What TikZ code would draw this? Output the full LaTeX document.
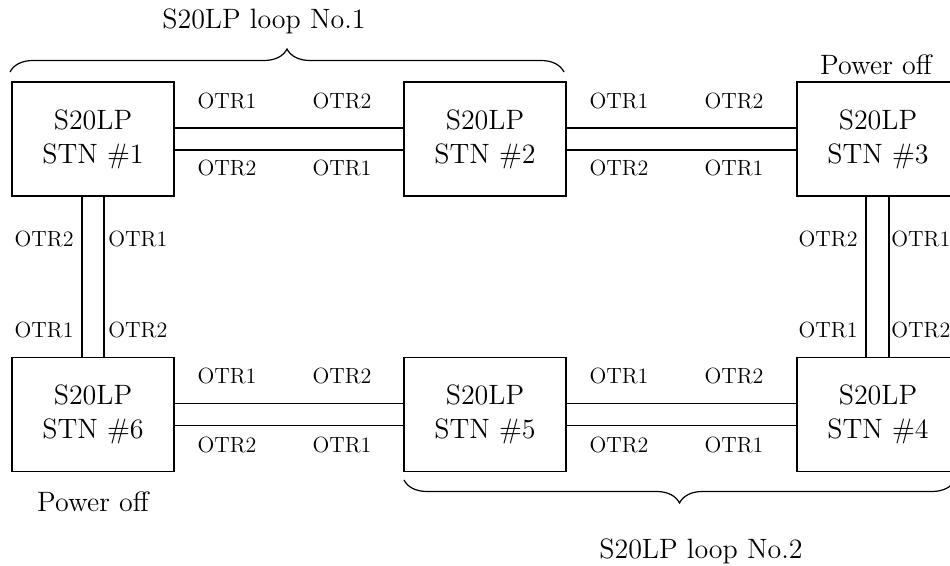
\documentclass[tikz,border=0pt]{standalone}
\usepackage{amsmath}
\usepackage{tikz}
\usetikzlibrary{decorations.pathreplacing}

\begin{document}
\begin{tikzpicture}[x=0.5pt, y=-0.5pt,
	stn/.style={shape=rectangle, draw=black, line width=0.6pt, minimum width=81pt, minimum height=57pt, inner sep=0pt, align=center, font=\fontsize{14}{17}\selectfont},
	otr/.style={inner sep=0pt, font=\fontsize{11}{13}\selectfont},
	captext/.style={inner sep=0pt, anchor=base, font=\fontsize{14}{17}\selectfont},
	fibre/.style={-, line width=0.6pt},
	loopbrace/.style={decorate, decoration={brace, amplitude=11.5pt}, line width=0.6pt}]
	
	\clip (0,0) rectangle (950,566);
	
	\node[stn] (s1) at (93, 139)    {S20LP\\STN \#1};
	\node[stn] (s2) at (485, 139)   {S20LP\\STN \#2};
	\node[stn] (s3) at (878, 139)   {S20LP\\STN \#3};
	\node[stn] (s6) at (93, 414.5)  {S20LP\\STN \#6};
	\node[stn] (s5) at (485, 414.5) {S20LP\\STN \#5};
	\node[stn] (s4) at (878, 414.5) {S20LP\\STN \#4};
	
	\draw[fibre] ([yshift=5.5pt]s1.east) -- ([yshift=5.5pt]s2.west);
	\draw[fibre] ([yshift=-5.5pt]s1.east) -- ([yshift=-5.5pt]s2.west);
	\draw[fibre] ([yshift=5.5pt]s2.east) -- ([yshift=5.5pt]s3.west);
	\draw[fibre] ([yshift=-5.5pt]s2.east) -- ([yshift=-5.5pt]s3.west);
	\draw[fibre] ([yshift=5.5pt]s6.east) -- ([yshift=5.5pt]s5.west);
	\draw[fibre] ([yshift=-5.5pt]s6.east) -- ([yshift=-5.5pt]s5.west);
	\draw[fibre] ([yshift=5.5pt]s5.east) -- ([yshift=5.5pt]s4.west);
	\draw[fibre] ([yshift=-5.5pt]s5.east) -- ([yshift=-5.5pt]s4.west);
	\draw[fibre] ([xshift=-5.5pt]s1.south) -- ([xshift=-5.5pt]s6.north);
	\draw[fibre] ([xshift=5.5pt]s1.south) -- ([xshift=5.5pt]s6.north);
	\draw[fibre] ([xshift=-6pt]s3.south) -- ([xshift=-6pt]s4.north);
	\draw[fibre] ([xshift=5.5pt]s3.south) -- ([xshift=5.5pt]s4.north);
	
	% port labels, top row
	\node[otr, anchor=base] (p12a) at (227, 109) {OTR1};
	\node[otr, anchor=base] (p12b) at (342, 109) {OTR2};
	\node[otr, anchor=base] (p12c) at (227, 176) {OTR2};
	\node[otr, anchor=base] (p12d) at (342, 176) {OTR1};
	\node[otr, anchor=base] (p23a) at (619, 109) {OTR1};
	\node[otr, anchor=base] (p23b) at (734, 109) {OTR2};
	\node[otr, anchor=base] (p23c) at (619, 176) {OTR2};
	\node[otr, anchor=base] (p23d) at (734, 176) {OTR1};
	
	% port labels, bottom row
	\node[otr, anchor=base] (p65a) at (227, 384) {OTR1};
	\node[otr, anchor=base] (p65b) at (342, 384) {OTR2};
	\node[otr, anchor=base] (p65c) at (227, 453) {OTR2};
	\node[otr, anchor=base] (p65d) at (342, 453) {OTR1};
	\node[otr, anchor=base] (p54a) at (619, 384) {OTR1};
	\node[otr, anchor=base] (p54b) at (734, 384) {OTR2};
	\node[otr, anchor=base] (p54c) at (619, 453) {OTR2};
	\node[otr, anchor=base] (p54d) at (734, 453) {OTR1};
	
	% port labels, columns
	\node[otr, anchor=base east] (p16a) at (74, 247)  {OTR2};
	\node[otr, anchor=base west] (p16b) at (108, 247) {OTR1};
	\node[otr, anchor=base east] (p16c) at (74, 338)  {OTR1};
	\node[otr, anchor=base west] (p16d) at (108, 338) {OTR2};
	\node[otr, anchor=base east] (p34a) at (858, 247) {OTR2};
	\node[otr, anchor=base west] (p34b) at (891, 247) {OTR1};
	\node[otr, anchor=base east] (p34c) at (858, 338) {OTR1};
	\node[otr, anchor=base west] (p34d) at (891, 338) {OTR2};
	
	\draw[loopbrace] (10, 72) -- (564, 72);
	\draw[loopbrace] (955, 480) -- (404, 480);
	
	\node[captext] (loop1) at (264, 29)  {S20LP loop No.1};
	\node[captext] (loop2) at (701, 559) {S20LP loop No.2};
	\node[captext] (off3) at (876, 75)   {Power off};
	\node[captext] (off6) at (93, 512)   {Power off};
	
\end{tikzpicture}
\end{document}
